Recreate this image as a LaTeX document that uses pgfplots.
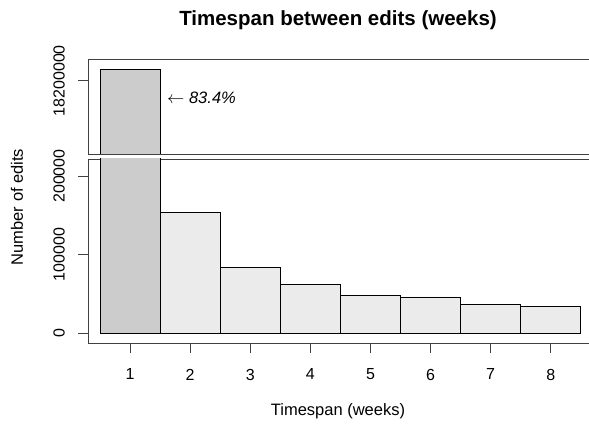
\documentclass[border=0pt]{standalone}
\usepackage{fontspec}
\setmainfont{Liberation Sans}
\usepackage{pgfplots}
\pgfplotsset{compat=1.18}
\definecolor{bone}{HTML}{CCCCCC}
\definecolor{brest}{HTML}{EBEBEB}
\begin{document}
\begin{tikzpicture}
\useasboundingbox (0pt,0pt) rectangle (589pt,429pt);
\pgfplotsset{brk/.style={
  scale only axis, width=510pt, xmin=0.305, xmax=8.791,
  axis line style={black!75, line width=0.9pt},
  tick style={black!75, line width=0.9pt},
  tick align=outside, major tick length=10pt,
  ytick pos=left, xtick pos=bottom,
  ticklabel style={font=\fontsize{16}{19}\selectfont},
  /pgf/number format/assume math mode=true,
  scaled y ticks=false,
  yticklabel style={rotate=90, anchor=south},
  yticklabel shift=10pt, xticklabel shift=12pt,
  anchor=south west,
  clip=true,
}}
\begin{axis}[brk, at={(88.3pt,275pt)}, height=95pt,
  ymin=17833500, ymax=18308500,
  ytick={18200000}, yticklabels={18200000}, xtick=\empty]
\addplot[ybar, bar width=60.1pt, fill=bone, draw=black, line width=0.7pt] coordinates {(1,18255000)};
\end{axis}
\begin{axis}[brk, at={(88.3pt,85.7pt)}, height=184.3pt,
  ymin=-12715, ymax=221615,
  ytick={0,100000,200000}, yticklabels={0,100000,200000},
  xtick={1,2,3,4,5,6,7,8}, xticklabels={1,2,3,4,5,6,7,8},
  restrict y to domain*=-20000:240000]
\addplot[ybar, bar width=60.1pt, fill=bone, draw=black, line width=0.7pt] coordinates {(1,18255000)};
\addplot[ybar, bar width=60.1pt, fill=brest, draw=black, line width=0.7pt] coordinates {(2,153800) (3,83400) (4,62300) (5,47800) (6,46200) (7,36900) (8,33800)};
\end{axis}
\node[font=\bfseries\fontsize{20.5}{24}\selectfont] at (338pt,409pt) {Timespan between edits (weeks)};
\node[font=\fontsize{16.5}{19}\selectfont] at (338pt,18pt) {Timespan (weeks)};
\node[font=\fontsize{16.5}{19}\selectfont, rotate=90] at (17pt,222pt) {Number of edits};
\node[font=\itshape\fontsize{16.5}{19}\selectfont, anchor=west, inner sep=0pt] at (167pt,331pt) {$\leftarrow$ 83.4\%};
\end{tikzpicture}
\end{document}
